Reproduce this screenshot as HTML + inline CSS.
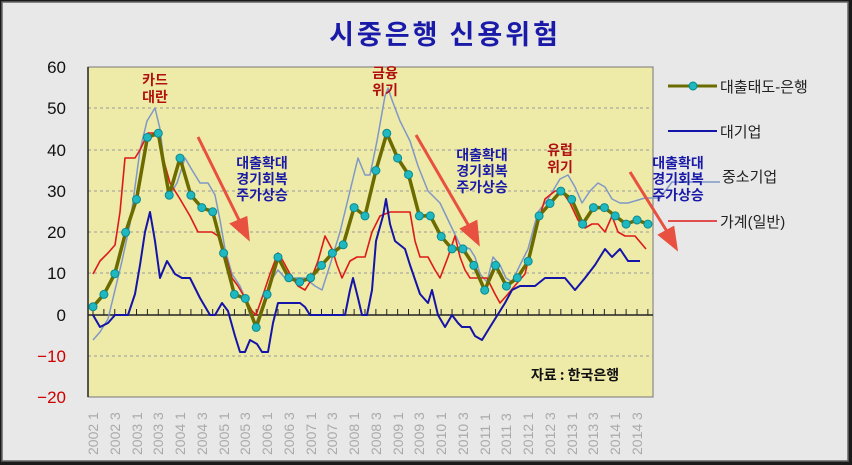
<!DOCTYPE html>
<html><head><meta charset="utf-8"><style>
html,body{margin:0;padding:0;background:#111;}
svg{display:block;}
text{font-family:"Liberation Sans","Noto Sans CJK KR",sans-serif;}
.k{font-family:"Noto Sans CJK KR","NanumGothic",sans-serif;font-weight:bold;}
</style></head><body>
<svg width="852" height="465" viewBox="0 0 852 465" xmlns="http://www.w3.org/2000/svg">
<rect x="0" y="0" width="852" height="465" fill="#1a1a1a"/>
<rect x="2" y="2" width="846" height="459" fill="#e8e8e8" stroke="#666" stroke-width="1.5"/>
<text x="445" y="44" text-anchor="middle" class="k" font-size="27" fill="#1a1aa8" letter-spacing="3">시중은행 신용위험</text>
<rect x="88" y="67" width="565" height="330" fill="#eeeaa8" stroke="#777" stroke-width="1"/>
<g stroke="#999" stroke-dasharray="3,3" stroke-width="1">
<line x1="88" y1="108" x2="653" y2="108"/><line x1="88" y1="150" x2="653" y2="150"/>
<line x1="88" y1="191" x2="653" y2="191"/><line x1="88" y1="232" x2="653" y2="232"/>
<line x1="88" y1="273" x2="653" y2="273"/><line x1="88" y1="356" x2="653" y2="356"/>
</g>
<line x1="88" y1="315" x2="653" y2="315" stroke="#222" stroke-width="1.5"/>
<line x1="92.5" y1="312" x2="650" y2="312" stroke="#222" stroke-width="6" stroke-dasharray="1 9.88"/>
<line x1="88" y1="67" x2="88" y2="397" stroke="#222" stroke-width="1.5"/>
<g font-size="17" text-anchor="end" fill="#111">
<text x="66" y="73">60</text><text x="66" y="114">50</text><text x="66" y="156">40</text>
<text x="66" y="197">30</text><text x="66" y="238">20</text><text x="66" y="279">10</text>
<text x="66" y="321">0</text><text x="66" y="362" fill="#c00">−10</text><text x="66" y="403" fill="#c00">−20</text>
</g>
<g font-size="14" fill="#aaa">
<text transform="translate(98,455) rotate(-90)">2002 1</text>
<text transform="translate(120,455) rotate(-90)">2002 3</text>
<text transform="translate(142,455) rotate(-90)">2003 1</text>
<text transform="translate(163,455) rotate(-90)">2003 3</text>
<text transform="translate(185,455) rotate(-90)">2004 1</text>
<text transform="translate(207,455) rotate(-90)">2004 3</text>
<text transform="translate(229,455) rotate(-90)">2005 1</text>
<text transform="translate(250,455) rotate(-90)">2005 3</text>
<text transform="translate(272,455) rotate(-90)">2006 1</text>
<text transform="translate(294,455) rotate(-90)">2006 3</text>
<text transform="translate(316,455) rotate(-90)">2007 1</text>
<text transform="translate(337,455) rotate(-90)">2007 3</text>
<text transform="translate(359,455) rotate(-90)">2008 1</text>
<text transform="translate(381,455) rotate(-90)">2008 3</text>
<text transform="translate(403,455) rotate(-90)">2009 1</text>
<text transform="translate(424,455) rotate(-90)">2009 3</text>
<text transform="translate(446,455) rotate(-90)">2010 1</text>
<text transform="translate(468,455) rotate(-90)">2010 3</text>
<text transform="translate(490,455) rotate(-90)">2011 1</text>
<text transform="translate(511,455) rotate(-90)">2011 3</text>
<text transform="translate(533,455) rotate(-90)">2012 1</text>
<text transform="translate(555,455) rotate(-90)">2012 3</text>
<text transform="translate(577,455) rotate(-90)">2013 1</text>
<text transform="translate(598,455) rotate(-90)">2013 3</text>
<text transform="translate(620,455) rotate(-90)">2014 1</text>
<text transform="translate(642,455) rotate(-90)">2014 3</text>
</g>
<polyline fill="none" stroke="#7f98c8" stroke-width="1.5" stroke-linejoin="round" points="93,340 100,332 108,319 115,290 122,261 130,224 140,150 147,121 155,108 160,129 166,179 170,195 177,183 185,158 192,170 200,183 208,183 215,195 220,220 225,249 232,274 240,286 245,298 250,315 256,323 262,307 270,282 278,270 285,278 295,278 305,278 315,286 322,290 330,265 340,232 350,191 358,158 365,175 370,175 377,141 385,96 388,88 392,100 400,121 410,141 418,166 428,191 440,203 450,224 460,245 470,249 475,257 480,274 487,282 493,257 500,265 506,278 512,282 520,265 528,249 538,212 548,199 560,179 568,175 575,187 582,203 590,191 598,183 605,187 612,199 620,203 628,203 645,198 660,198 672,182 720,182"/>
<polyline fill="none" stroke="#dd1a1a" stroke-width="1.6" stroke-linejoin="round" points="93,274 100,261 108,253 115,245 120,212 125,158 135,158 140,150 148,133 158,133 163,158 170,183 180,199 190,216 198,232 205,232 212,232 218,236 225,253 232,278 238,286 245,298 252,311 256,315 262,298 270,274 278,253 283,261 290,274 298,286 305,290 310,282 318,261 325,236 332,249 337,265 342,278 350,261 357,257 365,257 372,232 380,216 390,212 410,212 415,241 420,257 428,257 435,270 440,278 448,257 455,236 460,257 465,270 470,278 478,278 487,278 495,294 500,303 508,294 518,282 525,274 535,232 545,199 555,191 562,191 570,203 578,220 585,228 592,224 598,224 605,232 612,216 618,232 625,236 635,236 646,249"/>
<polyline fill="none" stroke="#1414a8" stroke-width="2" stroke-linejoin="round" points="93,315 100,327 108,323 115,315 122,315 128,315 135,294 140,265 145,232 150,212 155,241 160,278 167,261 175,274 182,278 190,278 200,298 210,315 215,315 222,303 228,311 235,336 240,352 245,352 250,340 257,344 262,352 268,352 273,323 278,303 285,303 300,303 305,307 310,315 330,315 345,315 350,290 353,278 358,298 362,315 367,315 372,290 376,241 383,216 386,199 390,224 395,241 405,249 410,265 420,294 428,303 432,290 438,315 445,327 452,315 458,323 462,327 470,327 475,336 482,340 490,327 505,303 512,290 520,286 535,286 545,278 555,278 565,278 575,290 585,278 595,265 605,249 612,257 620,249 628,261 640,261"/>
<polyline fill="none" stroke="#6b6b00" stroke-width="3.5" stroke-linejoin="round" points="93.0,306.7 103.9,294.4 114.8,273.7 125.6,232.4 136.5,199.4 147.4,137.4 158.3,133.3 169.2,195.2 180.0,158.1 190.9,195.2 201.8,207.6 212.7,211.8 223.6,253.1 234.4,294.4 245.3,298.5 256.2,327.4 267.1,294.4 278.0,257.2 288.8,277.8 299.7,282.0 310.6,277.8 321.5,265.4 332.4,253.1 343.2,244.8 354.1,207.6 365.0,215.9 375.9,170.5 386.8,133.3 397.6,158.1 408.5,174.6 419.4,215.9 430.3,215.9 441.2,236.5 452.0,248.9 462.9,248.9 473.8,265.4 484.7,290.2 495.6,265.4 506.4,286.1 517.3,277.8 528.2,261.3 539.1,215.9 550.0,203.5 560.8,191.1 571.7,199.4 582.6,224.1 593.5,207.6 604.4,207.6 615.2,215.9 626.1,224.1 637.0,220.0 647.9,224.1"/>
<g fill="#20b8c0" stroke="#0a8a90" stroke-width="1">
<circle cx="93.0" cy="306.7" r="4"/><circle cx="103.9" cy="294.4" r="4"/><circle cx="114.8" cy="273.7" r="4"/><circle cx="125.6" cy="232.4" r="4"/><circle cx="136.5" cy="199.4" r="4"/><circle cx="147.4" cy="137.4" r="4"/><circle cx="158.3" cy="133.3" r="4"/><circle cx="169.2" cy="195.2" r="4"/><circle cx="180.0" cy="158.1" r="4"/><circle cx="190.9" cy="195.2" r="4"/><circle cx="201.8" cy="207.6" r="4"/><circle cx="212.7" cy="211.8" r="4"/><circle cx="223.6" cy="253.1" r="4"/><circle cx="234.4" cy="294.4" r="4"/><circle cx="245.3" cy="298.5" r="4"/><circle cx="256.2" cy="327.4" r="4"/><circle cx="267.1" cy="294.4" r="4"/><circle cx="278.0" cy="257.2" r="4"/><circle cx="288.8" cy="277.8" r="4"/><circle cx="299.7" cy="282.0" r="4"/><circle cx="310.6" cy="277.8" r="4"/><circle cx="321.5" cy="265.4" r="4"/><circle cx="332.4" cy="253.1" r="4"/><circle cx="343.2" cy="244.8" r="4"/><circle cx="354.1" cy="207.6" r="4"/><circle cx="365.0" cy="215.9" r="4"/><circle cx="375.9" cy="170.5" r="4"/><circle cx="386.8" cy="133.3" r="4"/><circle cx="397.6" cy="158.1" r="4"/><circle cx="408.5" cy="174.6" r="4"/><circle cx="419.4" cy="215.9" r="4"/><circle cx="430.3" cy="215.9" r="4"/><circle cx="441.2" cy="236.5" r="4"/><circle cx="452.0" cy="248.9" r="4"/><circle cx="462.9" cy="248.9" r="4"/><circle cx="473.8" cy="265.4" r="4"/><circle cx="484.7" cy="290.2" r="4"/><circle cx="495.6" cy="265.4" r="4"/><circle cx="506.4" cy="286.1" r="4"/><circle cx="517.3" cy="277.8" r="4"/><circle cx="528.2" cy="261.3" r="4"/><circle cx="539.1" cy="215.9" r="4"/><circle cx="550.0" cy="203.5" r="4"/><circle cx="560.8" cy="191.1" r="4"/><circle cx="571.7" cy="199.4" r="4"/><circle cx="582.6" cy="224.1" r="4"/><circle cx="593.5" cy="207.6" r="4"/><circle cx="604.4" cy="207.6" r="4"/><circle cx="615.2" cy="215.9" r="4"/><circle cx="626.1" cy="224.1" r="4"/><circle cx="637.0" cy="220.0" r="4"/><circle cx="647.9" cy="224.1" r="4"/>
</g>
<g class="k" font-size="14" fill="#b01010" text-anchor="middle">
<text x="155" y="85">카드</text><text x="155" y="102">대란</text>
<text x="385" y="78">금융</text><text x="385" y="95">위기</text>
<text x="560" y="155">유럽</text><text x="560" y="172">위기</text>
</g>
<g class="k" font-size="14" fill="#1a1aa8" text-anchor="middle">
<text x="262" y="168">대출확대</text><text x="262" y="184">경기회복</text><text x="262" y="200">주가상승</text>
<text x="482" y="160">대출확대</text><text x="482" y="176">경기회복</text><text x="482" y="192">주가상승</text>
<text x="678" y="168">대출확대</text><text x="678" y="184">경기회복</text><text x="678" y="200">주가상승</text>
</g>
<g stroke="#e85040" stroke-width="3" fill="#e85040">
<line x1="198" y1="137" x2="240" y2="222"/><polygon points="248,238 232,224 246,218"/>
<line x1="416" y1="135" x2="470" y2="228"/><polygon points="478,243 462,229 476,222"/>
<line x1="630" y1="172" x2="668" y2="233"/><polygon points="676,248 660,235 673,228"/>
</g>
<text x="575" y="380" class="k" font-size="14" fill="#111" text-anchor="middle">자료 : 한국은행</text>
<line x1="668" y1="86" x2="717" y2="86" stroke="#6b6b00" stroke-width="3"/>
<circle cx="693" cy="86" r="4" fill="#20b8c0" stroke="#088" stroke-width="1"/>
<text x="720" y="92" font-size="15" fill="#222">대출태도-은행</text>
<line x1="668" y1="131" x2="717" y2="131" stroke="#1414a8" stroke-width="2"/>
<text x="720" y="137" font-size="15" fill="#222">대기업</text>
<text x="722" y="182" font-size="15" fill="#222">중소기업</text>
<line x1="668" y1="221" x2="717" y2="221" stroke="#dd1a1a" stroke-width="1.6"/>
<text x="720" y="227" font-size="15" fill="#222">가계(일반)</text>
</svg>
</body></html>
